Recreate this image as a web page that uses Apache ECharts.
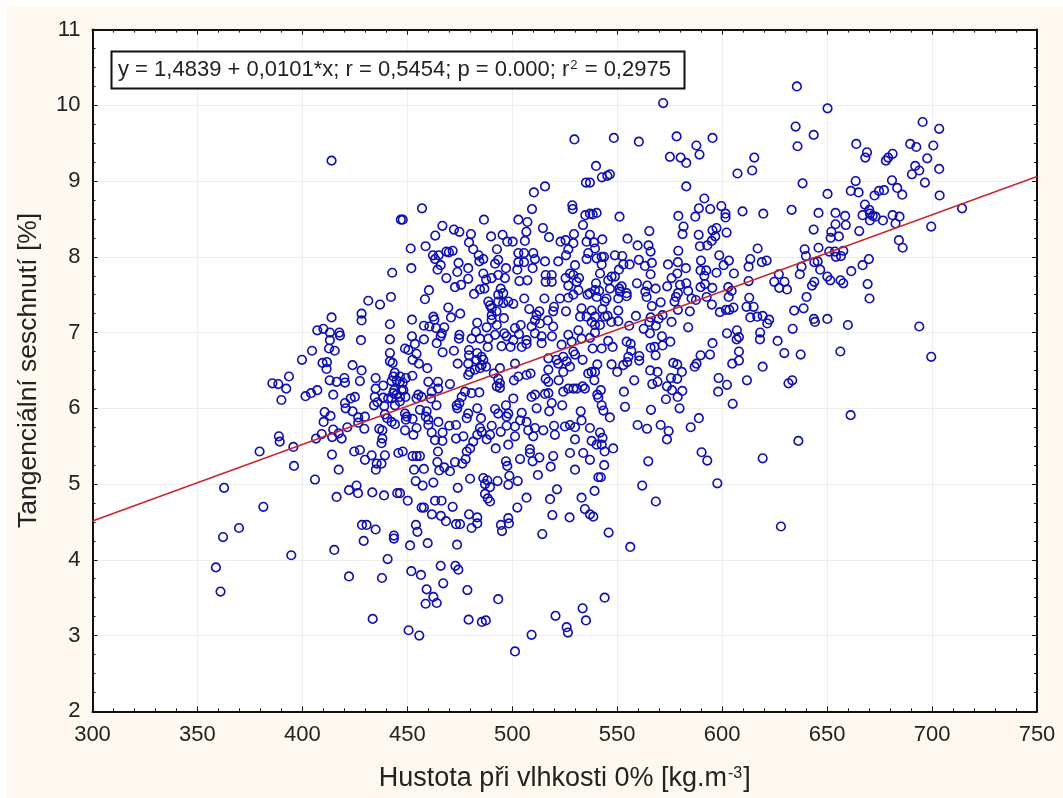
<!DOCTYPE html>
<html><head><meta charset="utf-8">
<script src="https://cdn.jsdelivr.net/npm/echarts@6/dist/echarts.min.js"></script>
<style>
html,body{margin:0;padding:0;background:#fff;width:1063px;height:798px;overflow:hidden}
#paper{position:absolute;left:7px;top:6px;right:0;bottom:0;background:#fdf9f0}
#c{position:absolute;left:0;top:0;width:1063px;height:798px}
</style></head><body><div id="paper"></div><div id="c"></div>
<script>
const pointsUpperRight=[[635.6,10.25],[650.2,9.96],[571.9,10.03],[695.5,9.78],[703.4,9.69],[635,9.72],[643.6,9.61],[548.4,9.57],[560.3,9.52],[578.3,9.59],[595.4,9.57],[635.9,9.46],[663.9,9.49],[689.6,9.49],[692.5,9.45],[700.6,9.47],[587.7,9.47],[589.2,9.35],[575.1,9.32],[580.2,9.31],[582.9,9.24],[615.3,9.31],[669,9.38],[668.2,9.31],[681.2,9.36],[679.1,9.31],[678,9.27],[678.8,9.26],[697.7,9.3],[692,9.2],[693.9,9.14],[690.4,9.09],[703.4,9.16],[696.6,8.98],[614.3,9.14],[607.3,9.1],[539.9,9.2],[546.5,9.09],[545.3,9.07],[542.7,9.05],[537,8.98],[582.9,8.93],[638.3,8.97],[663.6,9],[680.9,9.01],[661.3,8.87],[665,8.85],[672.6,8.81],[674.7,8.87],[677.1,8.88],[683.4,8.91],[685.8,8.82],[703.6,8.81],[650.2,8.83],[714.3,8.64],[591.5,8.77],[588.9,8.64],[594.3,8.63],[599.6,8.67],[587.2,8.53],[579.1,8.54],[601.6,8.57],[601.6,8.52],[601.3,8.49],[609.7,8.6],[619.6,8.57],[633.1,8.62],[645.9,8.58],[654,8.58],[658.6,8.54],[668,8.69],[670.1,8.62],[670.4,8.57],[666.9,8.55],[671.7,8.54],[673.1,8.53],[670.4,8.48],[676.6,8.48],[681.2,8.55],[684.5,8.53],[682.6,8.44],[699.6,8.4],[658.9,8.42],[654,8.43],[653.7,8.42],[643.6,8.36],[665.3,8.34],[652,8.33],[651.7,8.25],[655.6,8.27],[684.2,8.22],[686,8.12],[540.2,8.58],[538.3,8.56],[551.1,8.53],[565.3,8.34],[581.6,8.4],[581.1,8.3],[588.8,8.29],[589.1,8.28],[595.4,8.35],[597.3,8.38],[602.1,8.32],[596.7,8.27],[595,8.21],[592.9,8.15],[589.4,8.14],[554.9,8.24],[559.7,8.15],[564.9,8.15],[565.9,8.07],[542.9,8.23],[537,8.29],[538.9,8.19],[539.4,8.11],[579.1,8.08],[579.1,8.05],[598.6,8.02],[616.9,8.11],[639.3,8.1],[645.9,8.12],[639.9,8.01],[651,8.07],[653.7,8.07],[657.7,8.08],[654.2,8],[656.6,8.01],[645.5,7.94],[643.9,7.93],[637.8,7.87],[637,7.77],[669.9,7.97],[666.9,7.89],[661.5,7.81],[646.7,7.83],[650.1,7.74],[651.5,7.69],[656.4,7.69],[657.7,7.65],[669.3,7.64],[670.2,7.45]];
const pointsRightMiddle=[[640.2,7.47],[643.9,7.67],[642.8,7.62],[630.9,7.57],[629.7,7.67],[627,7.77],[624.8,7.67],[627.2,7.59],[612.6,7.68],[605.6,7.78],[603.2,7.95],[600.7,7.89],[597.3,7.79],[597.9,7.79],[621.2,7.95],[618.9,7.93],[613.4,7.97],[612.6,7.87],[589.9,7.95],[582.7,7.85],[574.2,7.9],[578.9,7.93],[578.6,7.78],[589.7,7.82],[592.4,7.82],[591.5,7.75],[575.9,7.72],[573.8,7.61],[579.9,7.63],[582.9,7.65],[568.3,7.58],[559.4,7.65],[564.3,7.62],[563.4,7.54],[564,7.47],[570.7,7.4],[566.5,7.35],[578.9,7.52],[578,7.47],[583.8,7.55],[577.3,7.41],[578.9,7.3],[584.6,7.28],[585.4,7.45],[587.5,7.43],[589.7,7.6],[591.8,7.64],[595.3,7.59],[592.6,7.47],[595.1,7.37],[598.9,7.27],[601.8,7.3],[603.4,7.3],[605.4,7.33],[602.9,7.6],[604.5,7.55],[603.1,7.47],[612.9,7.46],[611.6,7.34],[615,7.34],[613.4,7.2],[616.7,7.21],[619.3,7.22],[622.4,7.17],[621.5,7.12],[634.3,7.29],[638.8,7.32],[650.1,7.18],[643.7,7.18],[644.2,7.14],[633.6,7.05],[659.9,7.1],[693.9,7.08],[583.8,7.07],[575.9,7.14],[558.9,7.22],[555.7,7.09],[571.6,7.23],[569.7,7.18],[565.9,7.2],[565.3,7.14],[568.4,7.09],[562.6,7.05],[565.6,6.99],[571.3,6.95],[575.3,6.88],[602.3,6.99],[607,7.03],[608,6.94],[606.9,6.91],[595.4,6.86],[618.1,7],[618,6.91],[618,6.89],[618.2,6.9],[626.4,6.89],[608,6.75],[629.6,6.73],[637.4,6.71],[656.3,6.75],[699.6,6.68],[589.7,6.7],[594.2,6.71],[565.9,6.8],[567.8,6.81],[571.6,6.83],[568.3,6.7],[554.5,6.88],[556.4,6.85],[556.7,6.76],[560.5,6.69],[555.3,6.68],[547.8,6.81],[542.6,6.79],[542.9,6.77],[545.7,6.89],[541.8,7.1],[539.4,7],[537,6.93],[550.5,7.15],[547.2,7.14],[544.1,7.21],[545.4,7.22],[550.5,7.29],[549.7,7.28],[542.9,7.31],[537.8,7.29],[537.8,7.14],[539.4,7.1],[544.1,7.41],[544.9,7.45],[550.5,7.45],[554.5,7.52],[554.5,7.48],[552.1,7.61],[551,7.58],[551.3,7.54],[546.5,7.58],[547.3,7.74],[548.9,7.74],[545.7,7.69],[541.8,7.78],[542.6,7.9],[542.6,8],[543.7,8],[548.9,8.02],[552.4,8.01],[552.9,7.9],[555.9,7.9],[560.3,7.96],[560.3,7.97],[563.2,7.88],[566.5,7.92],[565.9,7.77],[550.8,7.83],[539.9,7.65],[539.4,7.56],[541.4,7.55],[537,7.52]];
const pointsRightLower=[[547.3,6.58],[540.5,6.58],[550,6.48],[552.9,6.57],[554.8,6.61],[555.6,6.66],[560.5,6.63],[539.4,6.48],[537.8,6.48],[539.1,6.37],[558.1,6.37],[565.7,6.5],[569.2,6.48],[576.7,6.6],[578.6,6.58],[580.8,6.48],[586.9,6.55],[587.8,6.59],[575.6,6.4],[578.6,6.39],[569.2,6.35],[566.7,6.32],[573.7,6.29],[576.1,6.24],[581,6.23],[580.4,6.22],[578.8,6.15],[573.2,6.12],[566.1,5.98],[579.7,6],[598.3,6.4],[602.3,6.31],[598.1,6.22],[604.8,6.59],[608,6.63],[619.3,6.55],[611.8,6.37],[605,6.06],[631.6,6.33],[633.4,6.37],[661.2,5.91],[636.3,5.57],[619.3,5.34],[597.7,5.01],[628,4.44],[588.9,5.87],[585,5.75],[570.7,5.78],[574.5,5.7],[573.7,5.59],[564.2,5.73],[559.7,5.78],[590.2,5.42],[592.9,5.31],[564.8,5.3],[561.9,4.98],[568.4,4.77],[545.9,4.36],[556.2,4.17],[538.6,4.57],[537,4.6],[539.2,4.91],[542.2,5.09],[543.8,5.25],[537,5.32],[548.1,5.47],[544,5.43],[542.6,5.52],[543,5.61],[541.8,5.68],[537.8,5.57],[537,5.74],[546.5,5.88],[543.4,5.97],[542.6,6.04],[553.7,6.02],[553.2,6.22],[542.2,6.24],[540.5,6.18],[541,6.14],[540.5,6.11]];
const pointsCentreUpper=[[457,8.64],[509.4,8.63],[528.6,8.68],[528.8,8.63],[528.4,8.7],[447.8,8.49],[486.5,8.49],[466.7,8.41],[502.9,8.49],[507.2,8.46],[506.7,8.33],[506,8.21],[514.6,8.38],[517.5,8.26],[534.8,8.55],[534.3,8.52],[533.7,8.42],[537,8.57],[540.2,8.57],[472.2,8.36],[472.5,8.33],[474.8,8.33],[463.3,8.28],[480.3,8.3],[489.9,8.27],[495.4,8.29],[497.6,8.2],[500.2,8.2],[529.4,8.3],[536.5,8.3],[523,8.2],[525.4,8.22],[529.1,8.18],[535.4,8.2],[539.4,8.2],[451.6,8.11],[458.7,8.14],[479.4,8.19],[479.5,8.16],[492.7,8.1],[468.6,8.07],[469.8,8.06],[471.6,8.08],[462.2,8.02],[464.9,8.02],[463.2,7.97],[465.9,7.89],[464.4,7.83],[451.9,7.85],[484,8.02],[484.3,7.94],[486.2,7.97],[474.4,7.92],[493.3,7.96],[491.8,7.91],[502.9,8.05],[505.6,8.05],[510,8.05],[510.8,7.97],[502.9,7.93],[505.6,7.93],[509.7,7.85],[515.6,7.94],[521.9,7.94],[525.6,8.02],[526.7,8.1],[529.9,7.89],[536.2,8.05],[535.4,7.97],[539.4,8.09],[540.2,7.98],[479,7.85],[479,7.82],[473.8,7.8],[479,7.71],[468.6,7.72],[472.7,7.6],[475.6,7.63],[486.2,7.78],[497,7.85],[502.4,7.83],[496.5,7.72],[493.3,7.76],[490.2,7.72],[487.5,7.7],[503.4,7.68],[507.2,7.69],[515.9,7.76],[518.8,7.76],[515.9,7.67],[518.8,7.67],[525.4,7.72],[527.5,7.78],[529.1,7.76],[531.8,7.72],[526.7,7.62],[530.7,7.67],[481.8,7.51],[484.6,7.57],[486.7,7.58],[494.5,7.58],[495.7,7.52],[493.3,7.5],[460.3,7.56],[458.4,7.44],[469.5,7.33],[475.2,7.25],[470.8,7.2],[452.2,7.17],[505.7,7.45],[515.3,7.45],[516,7.44],[522.7,7.45],[526.7,7.46],[529.1,7.5],[531.5,7.56],[535.9,7.5],[539.4,7.56],[540.2,7.47],[488.6,7.41],[489.4,7.36],[490.2,7.32],[493.3,7.41],[495.7,7.39],[498.1,7.41],[500.5,7.38],[508.1,7.31],[512.9,7.28],[511.6,7.23],[519.9,7.34],[519.5,7.28],[525.6,7.28],[533,7.32],[532.3,7.21],[537,7.3],[535.4,7.21],[539.4,7.21],[537.8,7.12],[490.2,7.23],[490.2,7.17],[492.5,7.28],[496,7.19],[462.4,7.21],[462.9,7.17],[510.3,8.85],[515.6,8.93],[529.6,9.55],[535.1,8.98]];
const pointsCentreMiddle=[[457.9,7.09],[460.5,7.08],[463.7,7.06],[467.6,7.07],[466.4,6.99],[465.9,6.95],[464,6.86],[457.9,6.91],[452.2,6.95],[453.6,6.85],[474.8,6.97],[474.6,6.92],[483.3,7.13],[482.7,7.01],[487.8,7.07],[480.6,6.92],[484.6,6.92],[492.6,7.1],[491.8,6.97],[488.6,6.92],[488.3,6.81],[496.2,6.99],[497.3,6.95],[501.3,7.06],[504,7.1],[500.5,6.9],[503.2,6.98],[506.8,6.9],[509.2,7.08],[513.2,7.12],[510.8,7.16],[516.9,7.16],[519.5,7.08],[518.9,6.95],[514,6.95],[514,6.86],[510.8,6.99],[494.9,6.82],[499.2,6.81],[504.5,6.81],[506.8,6.85],[526.7,6.97],[527.5,6.95],[531.5,7.03],[528.3,6.88],[523.5,6.84],[533,6.92],[538.3,6.79],[538.6,7.01],[541.8,7.12],[454.4,6.72],[452.5,6.64],[455.5,6.59],[448.9,6.79],[450.5,6.77],[466.8,6.74],[472.2,6.76],[459.5,6.53],[479.4,6.77],[479.4,6.7],[483.3,6.73],[474,6.59],[479,6.59],[483,6.64],[485.4,6.68],[486.2,6.64],[485.4,6.57],[484.6,6.53],[487.5,6.55],[479.8,6.48],[482.2,6.51],[479,6.44],[501.3,6.59],[494.1,6.53],[491.2,6.46],[502.9,6.42],[500.8,6.37],[506.8,6.44],[508.7,6.46],[517.2,6.66],[521.1,6.64],[524.3,6.68],[529.1,6.75],[529.9,6.71],[521.9,6.59],[525.9,6.62],[527.5,6.55],[524.3,6.48],[517.2,6.51],[515.9,6.39],[517.2,6.35],[522.1,6.37],[533.5,6.64],[537.8,6.51],[540.2,6.46],[536.2,6.46],[529.1,6.26],[526.7,6.26],[530.7,6.26],[533.5,6.29],[534.6,6.26],[524.3,6.22],[515.6,6.19],[517.2,6.2],[510.8,6.18],[509.2,6.15],[500.5,6.13],[493.3,6.39],[494.1,6.33],[492.6,6.29],[494.1,6.27],[460,6.35],[464.6,6.35],[470.3,6.32],[484.3,6.21],[480.6,6.2],[477.5,6.22],[475.9,6.15],[455.2,6.18],[456.8,6.15],[461.6,6.22],[446.5,6.42],[447.8,6.34],[452.4,6.43],[448.1,6.24],[446.5,6.15]];
const pointsCentreLower=[[447.8,5.43],[452.5,5.37],[454.4,5.37],[456,5.37],[457.9,5.2],[453.2,5.19],[454,5.04],[457.3,4.98],[462.4,5.02],[463.2,5.05],[464.6,5.43],[464.3,5.29],[465.2,5.18],[467.6,5.22],[470.3,5.17],[472.7,5.29],[476.2,5.27],[477.8,5.33],[479.9,5.07],[479.4,5.06],[479,5.05],[474,4.95],[486.2,5.08],[488.1,5.05],[489.4,4.96],[487,5],[493,5.04],[498.1,4.99],[502.6,5.04],[498.6,5.11],[487,4.87],[488.3,4.81],[489.4,4.77],[497,5.3],[497.6,5.24],[503.7,5.33],[508.4,5.46],[508.4,5.41],[509.7,5.3],[512.9,5.35],[512.2,5.12],[518.3,5.23],[519.5,5.37],[527.5,5.41],[533.8,5.41],[536.5,5.32],[529.9,5.19],[541,5.09],[521.3,4.93],[518,4.8],[506.8,4.82],[502.4,4.69],[539.1,4.92],[533,4.82],[534.6,4.67],[536.2,4.61],[538.6,4.57],[519.1,4.59],[527.3,4.56],[514.3,4.34],[498.1,4.55],[498.4,4.48],[494.6,4.46],[495.1,4.38],[479.4,4.6],[479.8,4.57],[483.3,4.56],[483.3,4.48],[480.6,4.42],[473.2,4.47],[475.1,4.47],[471.6,4.7],[468.4,4.51],[466,4.58],[461.7,4.6],[466.3,4.78],[463.2,4.78],[462.4,4.77],[456.8,4.69],[457.9,4.69],[450.2,4.78],[446.5,4.88],[454.1,4.46],[454.8,4.37],[451.3,4.19],[459.7,4.22],[473.7,4.2],[465.9,3.92],[472.9,3.92],[474.3,3.87],[451.9,3.85],[456.5,3.8],[467.1,3.69],[459.2,3.61],[478.6,3.6],[462.4,3.51],[493.3,3.48],[448.9,5.71],[452.9,5.65],[449.7,5.89],[452.5,5.86],[448.9,5.93],[456,5.98],[459.2,5.96],[460,5.85],[460,5.78],[464.8,5.82],[461.6,5.68],[463.2,5.58],[466.8,5.68],[466.7,5.57],[470,5.77],[473.2,5.78],[479,5.93],[473.5,6.04],[473.8,6],[472.7,6.02],[474.8,6.07],[478.3,5.87],[479.9,5.96],[483.3,6],[485.1,5.87],[484.6,5.74],[473.2,5.6],[476.7,5.63],[485.4,5.69],[483.3,5.65],[481.4,5.56],[479.9,5.47],[478.3,5.43],[487.8,5.59],[489.4,5.65],[490.2,5.77],[492.1,5.47],[498.1,5.52],[501.3,5.63],[494.5,5.69],[497.3,5.77],[491.8,5.99],[493.3,5.93],[497,6.04],[498.1,5.93],[497.3,5.89],[504.5,5.94],[501.3,5.76],[503.7,5.84],[506.8,5.82],[510.8,5.74],[507.6,5.71],[510,5.63],[514.8,5.71],[517.6,5.96],[511.6,6],[519.9,5.77],[520.3,5.65],[525.1,5.76],[527.5,5.78],[529.9,5.75],[533,5.84],[532.6,5.96],[536.2,5.74],[529.9,5.59],[530.7,5.57],[537,5.57],[540.2,5.52],[523.8,6.04],[518.8,6.07]];
const pointsLeft=[[431.4,7.42],[437,7.37],[413.9,7.2],[428.2,7.25],[428.2,7.16],[441.7,7.11],[407.1,7.03],[410,7.05],[413.1,7],[417.6,7],[417.9,6.96],[413.1,6.9],[427.9,6.9],[441.7,6.91],[412.7,6.79],[415.4,6.76],[404.6,6.76],[399.8,6.64],[441.7,6.73],[441.7,6.62],[440.9,6.59],[443,6.6],[409.6,6.6],[411.7,6.61],[411.5,6.52],[423.9,6.57],[424.2,6.59],[428.2,6.5],[393.6,6.42],[385.7,6.33],[388.5,6.32],[392.3,6.26],[390,6.11],[413,6.37],[416.3,6.35],[420,6.4],[420.3,6.34],[427.4,6.36],[434.9,6.4],[434.9,6.26],[435,6.24],[438.5,6.3],[442.5,6.36],[444.9,6.37],[401.5,6.16],[404.1,6.2],[407.1,6.24],[414.7,6.18],[420.3,6.07],[420.6,6],[423,6.13],[425,6.15],[423.9,5.96],[434.1,6.04],[435.8,6.08],[439,6.03],[438.5,6.14],[442.5,6.13],[443.3,6.2],[410.6,5.95],[413.4,5.9],[410.1,5.82],[426.6,5.88],[429.8,5.89],[426.6,5.81],[439.3,5.92],[442.5,5.82],[444.1,5.79],[429.5,5.73],[421.4,5.75],[414.7,5.72],[417.3,5.67],[418.7,5.6],[414.2,5.62],[409.2,5.66],[406.5,5.6],[395.7,5.49],[388.8,5.63],[389.2,5.56],[379.6,5.43],[436.6,5.73],[438.1,5.71],[438.1,5.6],[437.7,5.54],[414.1,5.39],[424.7,5.43],[427.4,5.45],[433,5.38],[439.3,5.38],[429.8,5.32],[435.4,5.27],[437.7,5.27],[435,5.19],[445.7,5.41],[396,5.24],[417.3,5.19],[406,5.06],[362.7,4.95],[425.8,4.98],[422.2,4.92],[426.5,4.88],[433.3,4.89],[438.9,4.85],[445.2,4.88],[416.3,4.83],[381.4,4.7],[369.8,4.42],[362.2,4.3],[394.7,4.06],[358.8,3.9],[361,3.58],[415.2,4.13],[422.2,3.78],[437.9,3.76],[440.6,4.01],[429.2,4.25],[428.4,4.46],[430.6,4.46],[434.9,4.4],[443.6,4.32],[443.6,4.28],[451.4,4.18],[454.3,4.46],[454.7,4.37],[459.7,4.22],[445.4,4.88],[450.1,4.78]];
const pointsBottom=[[456.3,4.7],[457.6,4.68],[462,4.75],[463.5,4.78],[466.3,4.78],[461.7,4.6],[468.4,4.52],[471.6,4.7],[473.5,4.48],[475.4,4.47],[480.8,4.42],[483,4.47],[465.9,3.91],[472.8,3.92],[474.3,3.87],[451.7,3.85],[459.2,3.62],[462,3.52],[464,3.43],[458.7,3.42],[433.5,3.22],[450.6,3.07],[455.7,3],[479.2,3.21],[485.5,3.18],[487.4,3.2],[501.3,2.79],[509.2,3.01],[520.6,3.26],[525.9,3.11],[526.5,3.04],[533.5,3.36],[535.1,3.2],[544,3.5],[519,4.59],[534.6,4.66],[535.9,4.61],[538.7,4.57],[518.1,4.8],[521.3,4.92],[533,4.81],[539.4,4.91],[494.9,4.47],[498.1,4.55],[498.1,4.48],[495,4.39]];
const pointsUpperLeft=[[413.9,9.27],[457.1,8.64],[446.9,8.49],[466.6,8.41],[463.1,8.28],[472.5,8.37],[473,8.33],[475,8.32],[480.3,8.29],[458.7,8.14],[451.7,8.12],[468.7,8.07],[470.3,8.06],[471.6,8.08],[479,8.18],[479.5,8.15],[481.4,8.1],[462.3,8],[463.9,8],[462.7,7.94],[465.8,7.89],[464.7,7.83],[452,7.86],[442.8,7.79],[474.4,7.92],[473.9,7.8],[479,7.83],[479,7.81],[468.5,7.72],[479,7.71],[475.8,7.63],[473,7.59],[460.3,7.55],[458.5,7.44],[481.7,7.51],[442.2,7.47],[431.4,7.43],[436.8,7.38],[413.9,7.2],[427.9,7.25],[428.2,7.16],[452,7.17],[462.3,7.21],[462.8,7.17],[469.5,7.32],[475,7.25],[471.1,7.2]];
const pointsDenseLeftCentre=[[404.4,6.76],[400,6.64],[412.8,6.79],[415.5,6.76],[410.2,6.59],[411.8,6.61],[411.8,6.51],[423.7,6.59],[423.9,6.55],[427.9,6.5],[413.1,6.37],[416.3,6.34],[419.8,6.41],[420.4,6.34],[427.4,6.36],[434.8,6.4],[434.7,6.25],[435.6,6.28],[438.5,6.3],[441.2,6.73],[441.7,6.6],[442.5,6.59],[440.9,6.58],[448.3,6.82],[449.6,6.76],[451.2,6.78],[454.7,6.71],[452.8,6.62],[455.6,6.59],[459.1,6.53],[453.6,6.86],[457.9,6.88],[444,6.47],[443.3,6.42],[445.6,6.44],[444.9,6.37],[446.4,6.35],[442.5,6.37],[447.2,6.4],[452.3,6.43],[449.3,6.4],[443.7,6.24],[443.3,6.2],[444.9,6.18],[442.2,6.15],[447.2,6.24],[449.1,6.15],[446.4,6.09],[444.1,6.04],[440.9,6.13],[437.7,6.13],[435.3,6.07],[434.1,6.04],[438.5,6.02],[434.5,6.15],[455.2,6.18],[454.4,6.13],[456,6.15],[459.9,6.35],[462,6.22],[464.7,6.26],[461.2,6.13],[463.9,6.04],[456,5.98],[459.6,5.96],[458.8,5.89],[459.5,5.82],[459.9,5.78],[464.7,5.85],[461.5,5.69],[463.1,5.59],[449.6,5.93],[452,5.87],[449.3,5.85],[454.4,5.74],[452.8,5.65],[448.8,5.72],[439.3,5.91],[440.4,5.87],[444,5.81],[442.5,5.82],[447.2,5.43],[452.5,5.36],[454.4,5.37],[455.6,5.38],[457.9,5.22],[453.1,5.19],[453.9,5.04],[457.2,4.97],[462.3,5.03],[463.1,5.04],[463.9,5.43],[463.9,5.3]];
const trendLinePoints=[[300,4.514],[750,9.059]];
const xTickRange=[300,750,50];
const yTickRange=[2,11,1];
const xAxisTitle='{a|Hustota při vlhkosti 0% [kg.m}{s|-3}{a|]}';
const yAxisTitle='Tangenciální seschnutí [%]';
const regressionNote='{a|y = 1,4839 + 0,0101*x; r = 0,5454; p = 0.000; r}{s|2}{a| = 0,2975}';

// Crops overlapped while reading, so the same circle may appear twice: keep the first reading.
const scatterPoints=[].concat(pointsUpperRight,pointsRightMiddle,pointsRightLower,pointsCentreUpper,pointsCentreMiddle,pointsCentreLower,pointsLeft,pointsBottom,pointsUpperLeft,pointsDenseLeftCentre)
  .filter((p,i,all)=>!all.slice(0,i).some(q=>Math.abs(q[0]-p[0])<0.9&&Math.abs(q[1]-p[1])<0.035));
const FONT='"Liberation Sans",Arial,sans-serif', INK='#222';
const line={lineStyle:{color:'#111',width:2}};
function xAxis(top){return {type:'value',min:xTickRange[0],max:xTickRange[1],interval:xTickRange[2],position:top?'top':'bottom',
  axisLine:{show:true,onZero:false,...line},
  axisTick:{show:true,inside:true,length:5,lineStyle:{color:'#111',width:1}},
  minorTick:{show:true,splitNumber:5,length:3,lineStyle:{color:'#111',width:1}},
  axisLabel:{show:!top,color:INK,fontFamily:FONT,fontSize:22,margin:13,hideOverlap:false,showMinLabel:true,showMaxLabel:true},
  splitLine:{show:!top,lineStyle:{color:'#eeeeee',width:1}},
  name:top?'':xAxisTitle,nameLocation:'middle',nameGap:54,
  nameTextStyle:{rich:{a:{fontFamily:FONT,fontSize:27,color:INK},s:{fontFamily:FONT,fontSize:16,color:INK,verticalAlign:'top',padding:[0,1,9,1]}}}};}
function yAxis(right){return {type:'value',min:yTickRange[0],max:yTickRange[1],interval:yTickRange[2],position:right?'right':'left',
  axisLine:{show:true,onZero:false,...line},
  axisTick:{show:true,inside:true,length:5,lineStyle:{color:'#111',width:1}},
  minorTick:{show:true,splitNumber:4,length:3,lineStyle:{color:'#111',width:1}},
  axisLabel:{show:!right,color:INK,fontFamily:FONT,fontSize:22,margin:12,showMinLabel:true,showMaxLabel:true},
  splitLine:{show:!right,lineStyle:{color:'#eeeeee',width:1}},
  name:right?'':yAxisTitle,nameLocation:'middle',nameGap:50,
  nameTextStyle:{fontFamily:FONT,fontSize:26.5,color:INK}};}
const chart=echarts.init(document.getElementById('c'),null,{renderer:'canvas',width:1063,height:798});
chart.setOption({
  backgroundColor:'transparent',animation:false,
  grid:{left:92.5,right:26,top:29.6,bottom:86.7,show:true,backgroundColor:'#fff',borderWidth:0},
  xAxis:[xAxis(false),xAxis(true)],
  yAxis:[yAxis(false),yAxis(true)],
  series:[
    {type:'scatter',xAxisIndex:0,yAxisIndex:0,data:scatterPoints,symbol:'circle',symbolSize:8.6,z:3,
     itemStyle:{color:'rgba(0,0,0,0)',borderColor:'#1010b0',borderWidth:1.6,opacity:1},large:false,progressive:0},
    {type:'line',xAxisIndex:0,yAxisIndex:0,data:trendLinePoints,symbol:'none',z:4,lineStyle:{color:'#c8282f',width:1.6}}
  ],
  graphic:[
    {type:'rect',z:10,shape:{x:111.5,y:51.5,width:573,height:37},style:{fill:'#fff',stroke:'#111',lineWidth:2}},
    {type:'text',z:11,x:118,y:70,style:{text:regressionNote,verticalAlign:'middle',rich:{a:{fontFamily:FONT,fontSize:22,fill:INK},s:{fontFamily:FONT,fontSize:13,fill:INK,verticalAlign:'top',padding:[0,1,7,1]}}}}
  ]
});
</script></body></html>
